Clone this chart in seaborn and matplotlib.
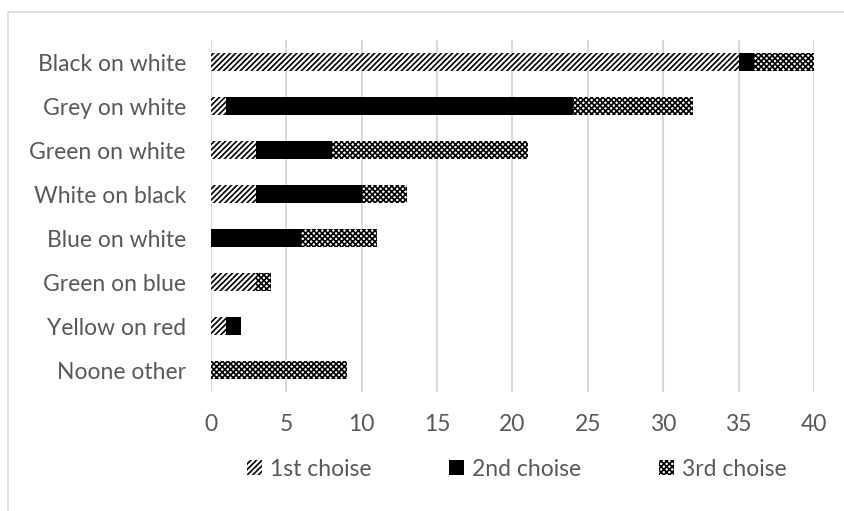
import matplotlib
matplotlib.use("Agg")
import matplotlib.pyplot as plt
from matplotlib.patches import Patch, Rectangle
import numpy as np
import pandas as pd
import seaborn as sns

categories = ["Black on white", "Grey on white", "Green on white", "White on black",
              "Blue on white", "Green on blue", "Yellow on red", "Noone other"]
first_choice = [35, 1, 3, 3, 0, 3, 1, 0]
second_choice = [1, 23, 5, 7, 6, 0, 1, 0]
third_choice = [4, 8, 13, 3, 5, 1, 0, 9]
series_names = ["1st choise", "2nd choise", "3rd choise"]
x_ticks = [0, 5, 10, 15, 20, 25, 30, 35, 40]

sns.set_theme(style="white")
plt.rcParams["font.family"] = ["Lato", "DejaVu Sans"]
plt.rcParams["hatch.color"] = "black"
plt.rcParams["hatch.linewidth"] = 1.2

text_grey = "#595959"
grid_grey = "#d9d9d9"

df = pd.DataFrame({
    "category": categories,
    "first": first_choice,
    "second": second_choice,
    "third": third_choice,
})
# cumulative ends for stacking: draw the longest layer first
df["end1"] = df["first"]
df["end2"] = df["first"] + df["second"]
df["end3"] = df["end2"] + df["third"]

fig = plt.figure(figsize=(8.45, 5.11), dpi=100)
ax = fig.add_axes([211 / 845, 1 - 392 / 511, 603 / 845, 352 / 511])

layers = [
    ("end3", "white", "xxxxxx"),
    ("end2", "black", ""),
    ("end1", "white", "//////"),
]
for col, face, hatch in layers:
    sns.barplot(data=df, x=col, y="category", orient="h", color=face,
                width=0.4, ax=ax, saturation=1, edgecolor="black", linewidth=0)
    for bar in ax.containers[-1]:
        bar.set_hatch(hatch)
        bar.set_facecolor(face)
        bar.set_edgecolor("black")
        bar.set_linewidth(0)

ax.set_xlim(0, 40)
ax.set_xticks(x_ticks)
ax.set_xticklabels([str(t) for t in x_ticks])
ax.set_xlabel("")
ax.set_ylabel("")
ax.grid(axis="x", color=grid_grey, linewidth=1.5)
ax.set_axisbelow(True)
for s in ax.spines.values():
    s.set_visible(False)
ax.tick_params(axis="both", length=0, labelsize=16.5, labelcolor=text_grey)
ax.tick_params(axis="x", pad=16)
ax.tick_params(axis="y", pad=18)

handles = [
    Patch(facecolor="white", edgecolor="black", hatch="//////", linewidth=0),
    Patch(facecolor="black", edgecolor="black", linewidth=0),
    Patch(facecolor="white", edgecolor="black", hatch="xxxxxx", linewidth=0),
]
leg = fig.legend(handles, series_names, loc="center", bbox_to_anchor=(517 / 845, 1 - 469 / 511),
                 ncol=3, frameon=False, fontsize=16.5, handlelength=0.65, handleheight=0.65,
                 handletextpad=0.35, columnspacing=3.4)
for t in leg.get_texts():
    t.set_color(text_grey)

# chart area border
fig.patches.append(Rectangle((8 / 845, -0.05), 1.0, 1 - 12 / 511 + 0.05, transform=fig.transFigure,
                             fill=False, edgecolor=grid_grey, linewidth=1.2))

fig.savefig("out.png", dpi=100, facecolor="white")
